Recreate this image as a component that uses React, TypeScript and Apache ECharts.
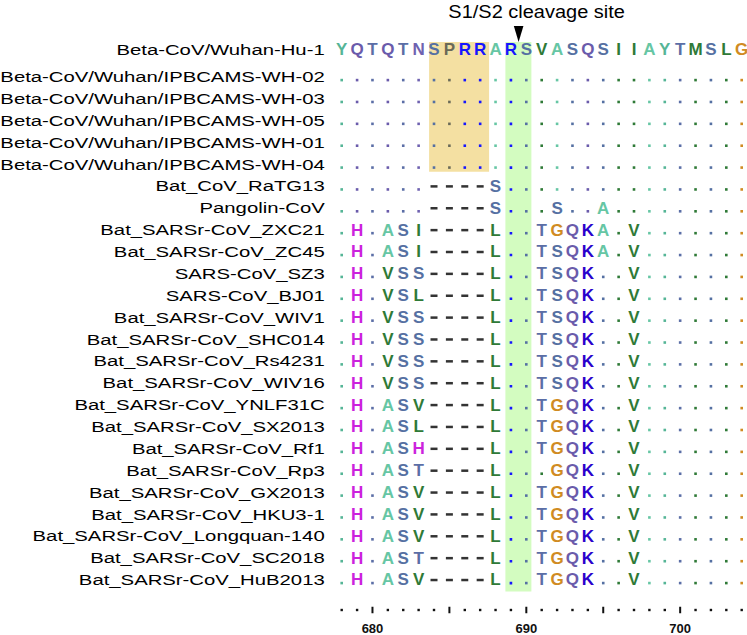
import React, { useEffect, useRef } from "react";
import * as echarts from "echarts";

// ---- data ----
const positions = [678, 679, 680, 681, 682, 683, 684, 685, 686, 687, 688, 689, 690, 691, 692, 693, 694, 695, 696, 697, 698, 699, 700, 701, 702, 703, 704];
const tickLabels = [680, 690, 700];

const referenceName = "Beta-CoV/Wuhan-Hu-1";
const referenceSeq = "YQTQTNSPRRARSVASQSIIAYTMSLG";

const strainNames = [
  "Beta-CoV/Wuhan/IPBCAMS-WH-02",
  "Beta-CoV/Wuhan/IPBCAMS-WH-03",
  "Beta-CoV/Wuhan/IPBCAMS-WH-05",
  "Beta-CoV/Wuhan/IPBCAMS-WH-01",
  "Beta-CoV/Wuhan/IPBCAMS-WH-04",
  "Bat_CoV_RaTG13",
  "Pangolin-CoV",
  "Bat_SARSr-CoV_ZXC21",
  "Bat_SARSr-CoV_ZC45",
  "SARS-CoV_SZ3",
  "SARS-CoV_BJ01",
  "Bat_SARSr-CoV_WIV1",
  "Bat_SARSr-CoV_SHC014",
  "Bat_SARSr-CoV_Rs4231",
  "Bat_SARSr-CoV_WIV16",
  "Bat_SARSr-CoV_YNLF31C",
  "Bat_SARSr-CoV_SX2013",
  "Bat_SARSr-CoV_Rf1",
  "Bat_SARSr-CoV_Rp3",
  "Bat_SARSr-CoV_GX2013",
  "Bat_SARSr-CoV_HKU3-1",
  "Bat_SARSr-CoV_Longquan-140",
  "Bat_SARSr-CoV_SC2018",
  "Bat_SARSr-CoV_HuB2013",
];

const strainSeqs = [
  "...........................",
  "...........................",
  "...........................",
  "...........................",
  "...........................",
  "......----S................",
  "......----S...S..A.........",
  ".H.ASI----L..TGQKA.V.......",
  ".H.ASI----L..TSQKA.V.......",
  ".H.VSS----L..TSQK..V.......",
  ".H.VSL----L..TSQK..V.......",
  ".H.VSS----L..TSQK..V.......",
  ".H.VSS----L..TSQK..V.......",
  ".H.VSS----L..TSQK..V.......",
  ".H.VSS----L..TSQK..V.......",
  ".H.ASV----L..TGQK..V.......",
  ".H.ASL----L..TGQK..V.......",
  ".H.ASH----L..TGQK..V.......",
  ".H.AST----L...GQK..V.......",
  ".H.ASV----L..TGQK..V.......",
  ".H.ASV----L..TGQK..V.......",
  ".H.ASV----L..TGQK..V.......",
  ".H.AST----L..TGQK..V.......",
  ".H.ASV----L..TGQK..V.......",
];

const cleavageTitle = "S1/S2 cleavage site";
const cleavagePos = 689.5;
// highlighted regions: [x0, x1, rowTop, rowBottom]
const furinBox = [683.68, 687.58, -0.6, 5.33];
const cleavageBox = [688.64, 690.33, -0.6, 24.53];
const REF_ROW = -0.235;

const residueColors: Record<string, string> = {
  Y: "#55b596",
  A: "#66c6a4",
  Q: "#6a5bab",
  N: "#6f62b0",
  T: "#5b6ea6",
  S: "#5570a2",
  P: "#6a6a58",
  R: "#1616ff",
  V: "#2f7a37",
  I: "#2f7a37",
  M: "#2f7a37",
  L: "#2f7a37",
  G: "#d08b22",
  H: "#cc22dd",
  K: "#2a00cc",
};

type Row = { name: string; seq: string; pos: number };
const rows: Row[] = [
  { name: referenceName, seq: referenceSeq, pos: REF_ROW },
  ...strainNames.map((n, i) => ({ name: n, seq: strainSeqs[i], pos: i + 1 })),
];

type Cell = { x: number; y: number; ch: string; refCh: string };
const cells: Cell[] = [];
rows.forEach((r) => {
  positions.forEach((p, c) => {
    cells.push({ x: p, y: r.pos, ch: r.seq[c], refCh: referenceSeq[c] });
  });
});

const SEQ_FONT = 'bold 17px "Liberation Sans", Arial, sans-serif';
const LABEL_FONT = '15.5px "Liberation Sans", Arial, sans-serif';

export default function App() {
  const ref = useRef<HTMLDivElement>(null);
  useEffect(() => {
    if (!ref.current) return;
    const chart = echarts.init(ref.current, undefined, { renderer: "svg" });
    const option: any = {
      animation: false,
      backgroundColor: "#ffffff",
      grid: {
        left: 341.7,
        right: 5.3,
        top: 22.33,
        bottom: 25.5,
        containLabel: false,
        outerBoundsMode: "none",
      },
      xAxis: [
        {
          type: "value",
          min: positions[0],
          max: positions[positions.length - 1],
          interval: 1,
          position: "bottom",
          axisLine: { show: false },
          axisTick: { show: false },
          splitLine: { show: false },
          axisLabel: {
            margin: 0.5,
            verticalAlign: "middle",
            formatter: (v: number) => (v % 5 === 0 ? "{bar| }" : "{dot| }"),
            rich: {
              bar: { width: 2, height: 6.5, lineHeight: 6.5, fontSize: 1, backgroundColor: "#111" },
              dot: { width: 2.4, height: 2.4, lineHeight: 2.4, fontSize: 1, backgroundColor: "#111" },
            },
          },
        },
        {
          type: "value",
          min: positions[0],
          max: positions[positions.length - 1],
          interval: 1,
          position: "bottom",
          axisLine: { show: false },
          axisTick: { show: false },
          splitLine: { show: false },
          axisLabel: {
            margin: 12.5,
            fontSize: 13,
            fontWeight: "bold",
            fontFamily: '"Liberation Sans", Arial, sans-serif',
            color: "#111",
            formatter: (v: number) => (tickLabels.indexOf(v) >= 0 ? String(v) : ""),
          },
        },
      ],
      yAxis: {
        type: "value",
        inverse: true,
        min: -1.5,
        max: 25.35,
        show: false,
        splitLine: { show: false },
      },
      series: [
        {
          type: "custom",
          name: "highlights",
          z: 1,
          data: [furinBox, cleavageBox].map((b) => [b[0], b[2], b[1], b[3]]),
          encode: { x: [0, 2], y: [1, 3] },
          renderItem: (params: any, api: any) => {
            const p0 = api.coord([api.value(0), api.value(1)]);
            const p1 = api.coord([api.value(2), api.value(3)]);
            return {
              type: "rect",
              shape: { x: p0[0], y: p0[1], width: p1[0] - p0[0], height: p1[1] - p0[1] },
              style: { fill: params.dataIndex === 0 ? "#f4e0a2" : "#d3fcc0" },
            };
          },
        },
        {
          type: "custom",
          name: "alignment",
          z: 2,
          data: cells.map((c) => [c.x, c.y]),
          encode: { x: 0, y: 1 },
          renderItem: (params: any, api: any) => {
            const cell = cells[params.dataIndex];
            const p = api.coord([cell.x, cell.y]);
            if (cell.ch === ".") {
              return {
                type: "rect",
                shape: { x: p[0] - 1.3, y: p[1] + 1.8, width: 2.6, height: 2.6 },
                style: { fill: residueColors[cell.refCh] || "#555" },
              };
            }
            if (cell.ch === "-") {
              return {
                type: "rect",
                shape: { x: p[0] - 3.5, y: p[1] - 1.2, width: 7, height: 2.5 },
                style: { fill: "#333" },
              };
            }
            return {
              type: "text",
              x: p[0],
              y: p[1],
              style: {
                text: cell.ch,
                font: SEQ_FONT,
                fill: residueColors[cell.ch] || "#333",
                align: "center",
                verticalAlign: "middle",
              },
            };
          },
        },
        {
          type: "custom",
          name: "labels",
          z: 2,
          data: rows.map((r) => [positions[0], r.pos]),
          encode: { x: 0, y: 1 },
          renderItem: (params: any, api: any) => {
            const r = rows[params.dataIndex];
            const p = api.coord([positions[0], r.pos]);
            return {
              type: "text",
              x: p[0] - 17,
              y: p[1],
              scaleX: 1.31,
              style: {
                text: r.name,
                font: LABEL_FONT,
                fill: "#000",
                align: "right",
                verticalAlign: "middle",
              },
            };
          },
        },
        {
          type: "custom",
          name: "cleavage",
          z: 3,
          data: [[cleavagePos, REF_ROW]],
          encode: { x: 0, y: 1 },
          renderItem: (params: any, api: any) => {
            const p = api.coord([cleavagePos, REF_ROW]);
            return {
              type: "group",
              children: [
                {
                  type: "polygon",
                  shape: {
                    points: [
                      [p[0] - 4.8, p[1] - 24],
                      [p[0] + 4.8, p[1] - 24],
                      [p[0], p[1] - 8],
                    ],
                  },
                  style: { fill: "#000" },
                },
                {
                  type: "text",
                  x: p[0] + 18,
                  y: p[1] - 38,
                  scaleX: 1.08,
                  style: {
                    text: cleavageTitle,
                    font: '18.5px "Liberation Sans", Arial, sans-serif',
                    fill: "#000",
                    align: "center",
                    verticalAlign: "middle",
                  },
                },
              ],
            };
          },
        },
      ],
    };
    chart.setOption(option);
    return () => chart.dispose();
  }, []);
  return (
    <div
      ref={ref}
      style={{ position: "fixed", left: 0, top: 0, width: 747, height: 635, background: "#fff" }}
    />
  );
}
